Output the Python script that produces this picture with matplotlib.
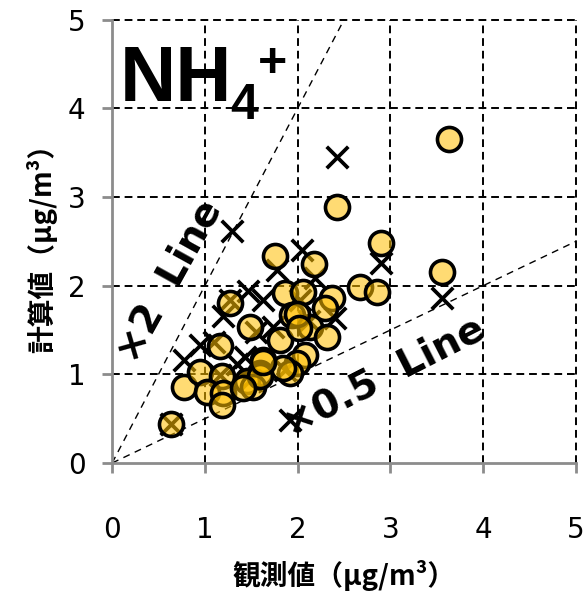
#!/usr/bin/env python3
"""NH4+ observed vs calculated scatter (two model runs)."""

import matplotlib

matplotlib.use("Agg")
import matplotlib.pyplot as plt
import numpy as np

plt.rcParams["font.family"] = ["DejaVu Sans", "Noto Sans CJK JP"]

# observed vs calculated, circles (run A)
obs_a = [3.63, 2.42, 2.90, 3.56, 1.76, 2.18, 1.86, 2.06, 2.37, 2.67, 2.86, 2.30,
         1.94, 2.13, 2.32, 1.81, 2.08, 1.99, 1.63, 1.59, 1.92, 1.49, 0.63, 0.77,
         0.95, 1.16, 1.27, 1.19, 1.02, 1.20, 1.19, 1.45, 1.52, 1.59, 1.84, 1.41,
         1.63, 1.99, 2.01]
calc_a = [3.66, 2.89, 2.48, 2.16, 2.33, 2.25, 1.92, 1.93, 1.86, 1.98, 1.93, 1.75,
          1.67, 1.53, 1.42, 1.39, 1.22, 1.13, 1.16, 1.02, 1.02, 1.53, 0.44, 0.86,
          1.03, 1.32, 1.81, 0.98, 0.80, 0.79, 0.65, 0.93, 0.86, 0.98, 1.07, 0.85,
          1.14, 1.68, 1.52]

# observed vs calculated, crosses (run B)
obs_b = [2.42, 1.29, 2.05, 2.90, 3.56, 1.92, 0.63, 0.77, 0.95, 1.47, 1.20, 1.27,
         1.78, 1.73, 1.43, 1.16, 1.63, 2.19, 2.40, 1.49, 1.86, 2.03, 1.10, 1.35,
         1.55, 2.12]
calc_b = [3.45, 2.62, 2.40, 2.26, 1.86, 0.49, 0.44, 1.16, 1.33, 1.94, 1.66, 1.84,
          2.18, 1.53, 1.20, 0.99, 1.84, 2.09, 1.64, 0.94, 1.05, 1.84, 1.36, 1.12,
          1.48, 1.60]

ticks = [0, 1, 2, 3, 4, 5]
ref_x = np.array([0, 5])


def main() -> int:
    fig = plt.figure(figsize=(5.84, 5.99), dpi=100)
    ax = fig.add_axes([0.192, 0.227, 0.794, 0.74])

    ax.set_xlim(0, 5)
    ax.set_ylim(0, 5)
    ax.set_xticks(ticks)
    ax.set_yticks(ticks)

    # grid incl. the 5 lines on top/right
    for t in ticks[1:]:
        ax.axvline(t, color="black", lw=1.4, ls=(0, (4, 2.5)), zorder=1, clip_on=False)
        ax.axhline(t, color="black", lw=1.4, ls=(0, (4, 2.5)), zorder=1, clip_on=False)

    ax.plot(ref_x, 2 * ref_x, color="black", lw=1.0, ls=(0, (5, 4)), zorder=1)
    ax.plot(ref_x, 0.5 * ref_x, color="black", lw=1.0, ls=(0, (5, 4)), zorder=1)

    ax.scatter(obs_b, calc_b, marker="x", s=240, color="black", linewidths=2.7, zorder=2)
    ax.scatter(obs_a, calc_a, marker="o", s=300, facecolor=(1.0, 0.75, 0.0, 0.55),
               edgecolor="black", linewidths=2.6, zorder=3)

    for side in ("top", "right"):
        ax.spines[side].set_visible(False)
    for side in ("left", "bottom"):
        ax.spines[side].set_color("#8c8c8c")
        ax.spines[side].set_linewidth(2)
        ax.spines[side].set_zorder(4)
    ax.tick_params(colors="#8c8c8c", width=2, length=7, labelsize=20, labelcolor="black")
    ax.tick_params(axis="x", pad=31)
    ax.tick_params(axis="y", pad=12)

    label_font = dict(family=["Noto Sans CJK JP"], fontsize=20, fontweight="bold")
    ax.set_xlabel("観測値（μg/m³）", labelpad=12, **label_font)
    ax.set_ylabel("計算値（μg/m³）", labelpad=8, **label_font)

    # species label
    ax.text(0.08, 4.08, "NH", fontsize=56, fontweight="bold", family="Liberation Sans",
            ha="left", va="baseline")
    ax.text(1.27, 3.88, "4", fontsize=36, fontweight="bold", family="Liberation Sans",
            ha="left", va="baseline")
    ax.text(1.57, 4.35, "+", fontsize=36, fontweight="bold", family="Liberation Sans",
            ha="left", va="baseline")

    ax.text(0.62, 2.05, "×2  Line", fontsize=28, fontweight="bold", rotation=61,
            ha="center", va="center", rotation_mode="anchor")
    ax.text(2.93, 0.97, "×0.5  Line", fontsize=28, fontweight="bold", rotation=27,
            ha="center", va="center", rotation_mode="anchor")

    fig.savefig("out.png", dpi=100)
    plt.close(fig)
    return 0


if __name__ == "__main__":
    raise SystemExit(main())
